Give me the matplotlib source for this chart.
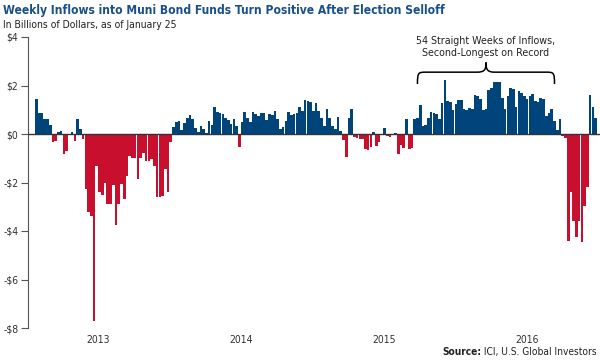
import matplotlib
matplotlib.use("Agg")
import matplotlib.pyplot as plt
from matplotlib import font_manager as fm
from matplotlib.path import Path
from matplotlib.patches import PathPatch
import pandas as pd

# weekly net flows, billions of dollars, ending Jan 25, 2017
flows = [
    1.45, 0.86, 0.86, 0.62, 0.62, 0.38, -0.34, -0.3, 0.08, 0.12, -0.82, -0.7,
    0.02, 0.1, -0.3, 0.62, 0.2, -0.2, -2.27, -3.2, -3.4, -7.7,
    -1.3, -2.4, -2.5, -2.0, -2.9, -2.9, -2.1, -3.77, -2.9, -2.05, -2.7, -1.73,
    -0.9, -1.0, -1.0, -1.85, -1.0, -0.8, -1.1, -1.1, -1.05, -1.3, -2.58, -2.58,
    -2.55, -1.44, -2.4, -0.35,
    0.27, 0.5, 0.55, 0.15, 0.47, 0.68, 0.78, 0.6, 0.25, 0.08, 0.32, 0.22, 0.06,
    0.55, 0.38,
    1.1, 0.92, 0.85, 0.82, 0.68, 0.58, 0.43, 0.6, 0.34,
    -0.55,
    0.48, 0.89, 0.68, 0.5, 0.89, 0.82, 0.74, 0.85, 0.85, 0.58, 0.82, 0.8, 0.93,
    0.6, 0.2, 0.3, 0.52, 0.89, 0.8, 0.82, 0.85, 1.1, 0.96,
    1.41, 1.37, 1.3, 0.96, 1.28, 0.96, 0.66, 0.32, 1.02, 0.68, 0.33, 0.22, 0.72,
    0.12,
    -0.25, -0.95, 0.64, 1.05, -0.12, -0.18, -0.2, -0.2, -0.62, -0.66, -0.55,
    0.1, -0.5, -0.34, -0.05, 0.24, -0.1, -0.12, -0.05, 0.06, -0.84, -0.45,
    -0.58, 0.62, -0.6, -0.58,
    0.62, 0.64, 1.19, 0.35, 0.37, 0.64, 0.89, 0.85, 0.82, 0.6, 1.28, 2.24,
    1.35, 1.33, 1.0, 1.23, 1.41, 1.42, 1.03, 1.0, 1.06, 1.05, 1.6, 1.55, 1.45,
    0.98, 1.05, 1.82, 1.89, 2.13, 2.15, 2.15, 1.47, 1.05, 1.58, 1.88, 1.85,
    1.1, 1.78, 1.7, 1.55, 1.44, 1.55, 1.65, 1.37, 1.3, 1.47, 1.45, 0.75, 0.86,
    1.03, 0.55, 0.18, 0.6,
    -0.1, -0.15, -4.43, -2.4, -3.6, -4.25, -3.6, -4.46, -2.95, -2.2,
    1.6, 1.1, 0.64,
]
weeks = pd.date_range(end="2017-01-25", periods=len(flows), freq="7D")
years = [2013, 2014, 2015, 2016]
y_ticks = [4, 2, 0, -2, -4, -6, -8]
streak_end = 191     # last week of the 54-week run of inflows
streak_len = 54

BLUE = "#00447c"
RED = "#c8102e"
TITLE_BLUE = "#17508c"
TXT = "#222222"

# the original uses a condensed face; take one if the machine has it
fam, stretch = "DejaVu Sans", "normal"
for f in fm.fontManager.ttflist:
    if any(k in f.fname for k in ("Narrow", "Condensed", "Cond")):
        fam, stretch = f.name, f.stretch
        break
plt.rcParams["font.family"] = [fam, "DejaVu Sans"]
plt.rcParams["font.stretch"] = stretch

fig = plt.figure(figsize=(6, 3.6), dpi=100)
renderer = fig.canvas.get_renderer()


def size_for(s, width_px, **kw):
    # font size that makes string s about width_px wide
    t = fig.text(0, 0, s, fontsize=10, **kw)
    w = t.get_window_extent(renderer).width
    t.remove()
    return 10 * width_px / w


ax = fig.add_axes([28 / 600, 32 / 360, 572 / 600, 291 / 360])

x = list(range(len(flows)))
colors = [BLUE if v >= 0 else RED for v in flows]
ax.bar(x, flows, width=0.97, color=colors, linewidth=0)
ax.axhline(0, color="#333333", linewidth=1.0, zorder=3)

ax.set_xlim(-3.1, len(flows) + 0.6)
ax.set_ylim(-8, 4)

tick_fs = 7.5
ax.set_yticks(y_ticks)
ax.set_yticklabels([f"${v}" if v >= 0 else f"-${-v}" for v in y_ticks],
                   fontsize=tick_fs, color="#333333")

# year labels sit around early August of each year
tick_pos = [((pd.Timestamp(f"{y}-08-03") - weeks[0]).days) / 7 for y in years]
ax.set_xticks(tick_pos)
ax.set_xticklabels([str(y) for y in years], fontsize=tick_fs, color="#333333")
ax.tick_params(axis="x", length=0, pad=5)
ax.tick_params(axis="y", length=5, width=0.8, color="#555555", pad=2, direction="out")

for s in ["top", "right", "bottom"]:
    ax.spines[s].set_visible(False)
ax.spines["left"].set_color("#555555")
ax.spines["left"].set_linewidth(0.8)

# brace over the streak of inflows
start = streak_end - streak_len + 1
x0, x1 = start + 1, streak_end - 2
xm = (x0 + x1) / 2
yb, ymid, yt, w = 2.06, 2.55, 2.95, 3.3
verts = [
    (x0, yb), (x0, ymid), (x0 + 0.3, ymid), (x0 + w, ymid),
    (xm - w, ymid),
    (xm - 0.5, ymid), (xm, ymid + 0.1), (xm, yt),
    (xm, ymid + 0.1), (xm + 0.5, ymid), (xm + w, ymid),
    (x1 - w, ymid),
    (x1 - 0.3, ymid), (x1, ymid), (x1, yb),
]
codes = [Path.MOVETO, Path.CURVE4, Path.CURVE4, Path.CURVE4, Path.LINETO,
         Path.CURVE4, Path.CURVE4, Path.CURVE4, Path.CURVE4, Path.CURVE4,
         Path.CURVE4, Path.LINETO, Path.CURVE4, Path.CURVE4, Path.CURVE4]
ax.add_patch(PathPatch(Path(verts, codes), fill=False, lw=1.1, color="black",
                       clip_on=False))
note_fs = size_for("54 Straight Weeks of Inflows,", 140)
ax.text(xm, 3.15, "54 Straight Weeks of Inflows,\nSecond-Longest on Record",
        ha="center", va="bottom", fontsize=note_fs, color=TXT, linespacing=1.2)

title = "Weekly Inflows into Muni Bond Funds Turn Positive After Election Selloff"
fig.text(0.005, 0.99, title, ha="left", va="top", color=TITLE_BLUE, fontweight="bold",
         fontsize=size_for(title, 440, fontweight="bold"))
sub = "In Billions of Dollars, as of January 25"
fig.text(0.005, 0.945, sub, ha="left", va="top", color=TXT,
         fontsize=size_for(sub, 175))

src_fs = size_for("Source: ICI, U.S. Global Investors", 150)
t = fig.text(0.995, 0.008, " ICI, U.S. Global Investors", ha="right", va="bottom",
             fontsize=src_fs, color=TXT)
bb = t.get_window_extent(renderer)
fig.text(bb.x0 / 600, 0.008, "Source:", ha="right", va="bottom", fontsize=src_fs,
         fontweight="bold", color=TXT)

fig.savefig("out.png", dpi=100)
